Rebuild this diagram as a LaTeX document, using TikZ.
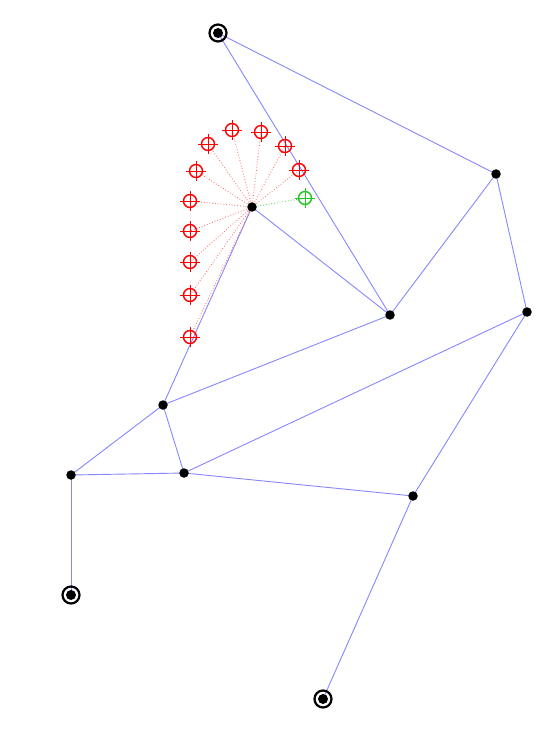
\documentclass[tikz,border=0pt]{standalone}
\usetikzlibrary{backgrounds}
\definecolor{edgeblue}{RGB}{135,135,255}
\definecolor{raysred}{RGB}{255,100,100}
\definecolor{raysgreen}{RGB}{60,200,60}
\definecolor{mkgreen}{RGB}{30,200,30}
\begin{document}
\begin{tikzpicture}[x=1pt,y=-1pt,
  edge/.style={draw=edgeblue,line width=0.9pt},
  reddot/.style={draw=raysred,dotted,line width=0.8pt},
  greendot/.style={draw=raysgreen,dotted,line width=0.8pt},
  vtx/.style={circle,fill=black,inner sep=0pt,minimum size=9.5pt},
  term/.style={circle,draw=black,line width=2.2pt,inner sep=0pt,minimum size=17pt,
    path picture={\fill[black] (path picture bounding box.center) circle (5pt);}},
  tgt/.style={circle,draw=#1,line width=1.4pt,inner sep=0pt,minimum size=13pt},
  cross/.style={line width=0.7pt}
]
\useasboundingbox (0,0) rectangle (545,743);
% vertices
\node[term] (T1) at (218,33) {};
\node[vtx] (A) at (496,174) {};
\node[vtx] (C) at (252,207) {};
\node[vtx] (B) at (390,315) {};
\node[vtx] (D) at (527,312) {};
\node[vtx] (E) at (163,405) {};
\node[vtx] (F) at (71,475) {};
\node[vtx] (G) at (184,473) {};
\node[vtx] (H) at (413,496) {};
\node[term] (T2) at (71,595) {};
\node[term] (T3) at (323,699) {};
\node[tgt=mkgreen] (g1) at (305,198) {};
\node[tgt=red] (r1) at (208,144) {};
\node[tgt=red] (r2) at (232,130) {};
\node[tgt=red] (r3) at (261,132) {};
\node[tgt=red] (r4) at (285,146) {};
\node[tgt=red] (r5) at (299,170) {};
\node[tgt=red] (r6) at (196,171) {};
\node[tgt=red] (r7) at (190,201) {};
\node[tgt=red] (r8) at (190,231) {};
\node[tgt=red] (r9) at (190,262) {};
\node[tgt=red] (r10) at (190,295) {};
\node[tgt=red] (r11) at (190,337) {};
\foreach \n/\c in {g1/mkgreen,r1/red,r2/red,r3/red,r4/red,r5/red,r6/red,r7/red,r8/red,r9/red,r10/red,r11/red}
  \draw[cross,draw=\c] ([yshift=3pt]\n.north) -- ([yshift=-3pt]\n.south)
                       ([xshift=-3pt]\n.west) -- ([xshift=3pt]\n.east);
\begin{scope}[on background layer]
\fill[white] (0,0) rectangle (545,743);
\foreach \a/\b in {T1/A,T1/B,A/B,A/D,C/B,C/E,E/B,E/F,E/G,F/G,F/T2,G/D,G/H,H/D,H/T3}
  \draw[edge] (\a.center) -- (\b.center);
\foreach \r in {r1,r2,r3,r4,r5,r6,r7,r8,r9,r10,r11}
  \draw[reddot] (C.center) -- (\r.center);
\draw[greendot] (C.center) -- (g1.center);
\end{scope}
\end{tikzpicture}
\end{document}
